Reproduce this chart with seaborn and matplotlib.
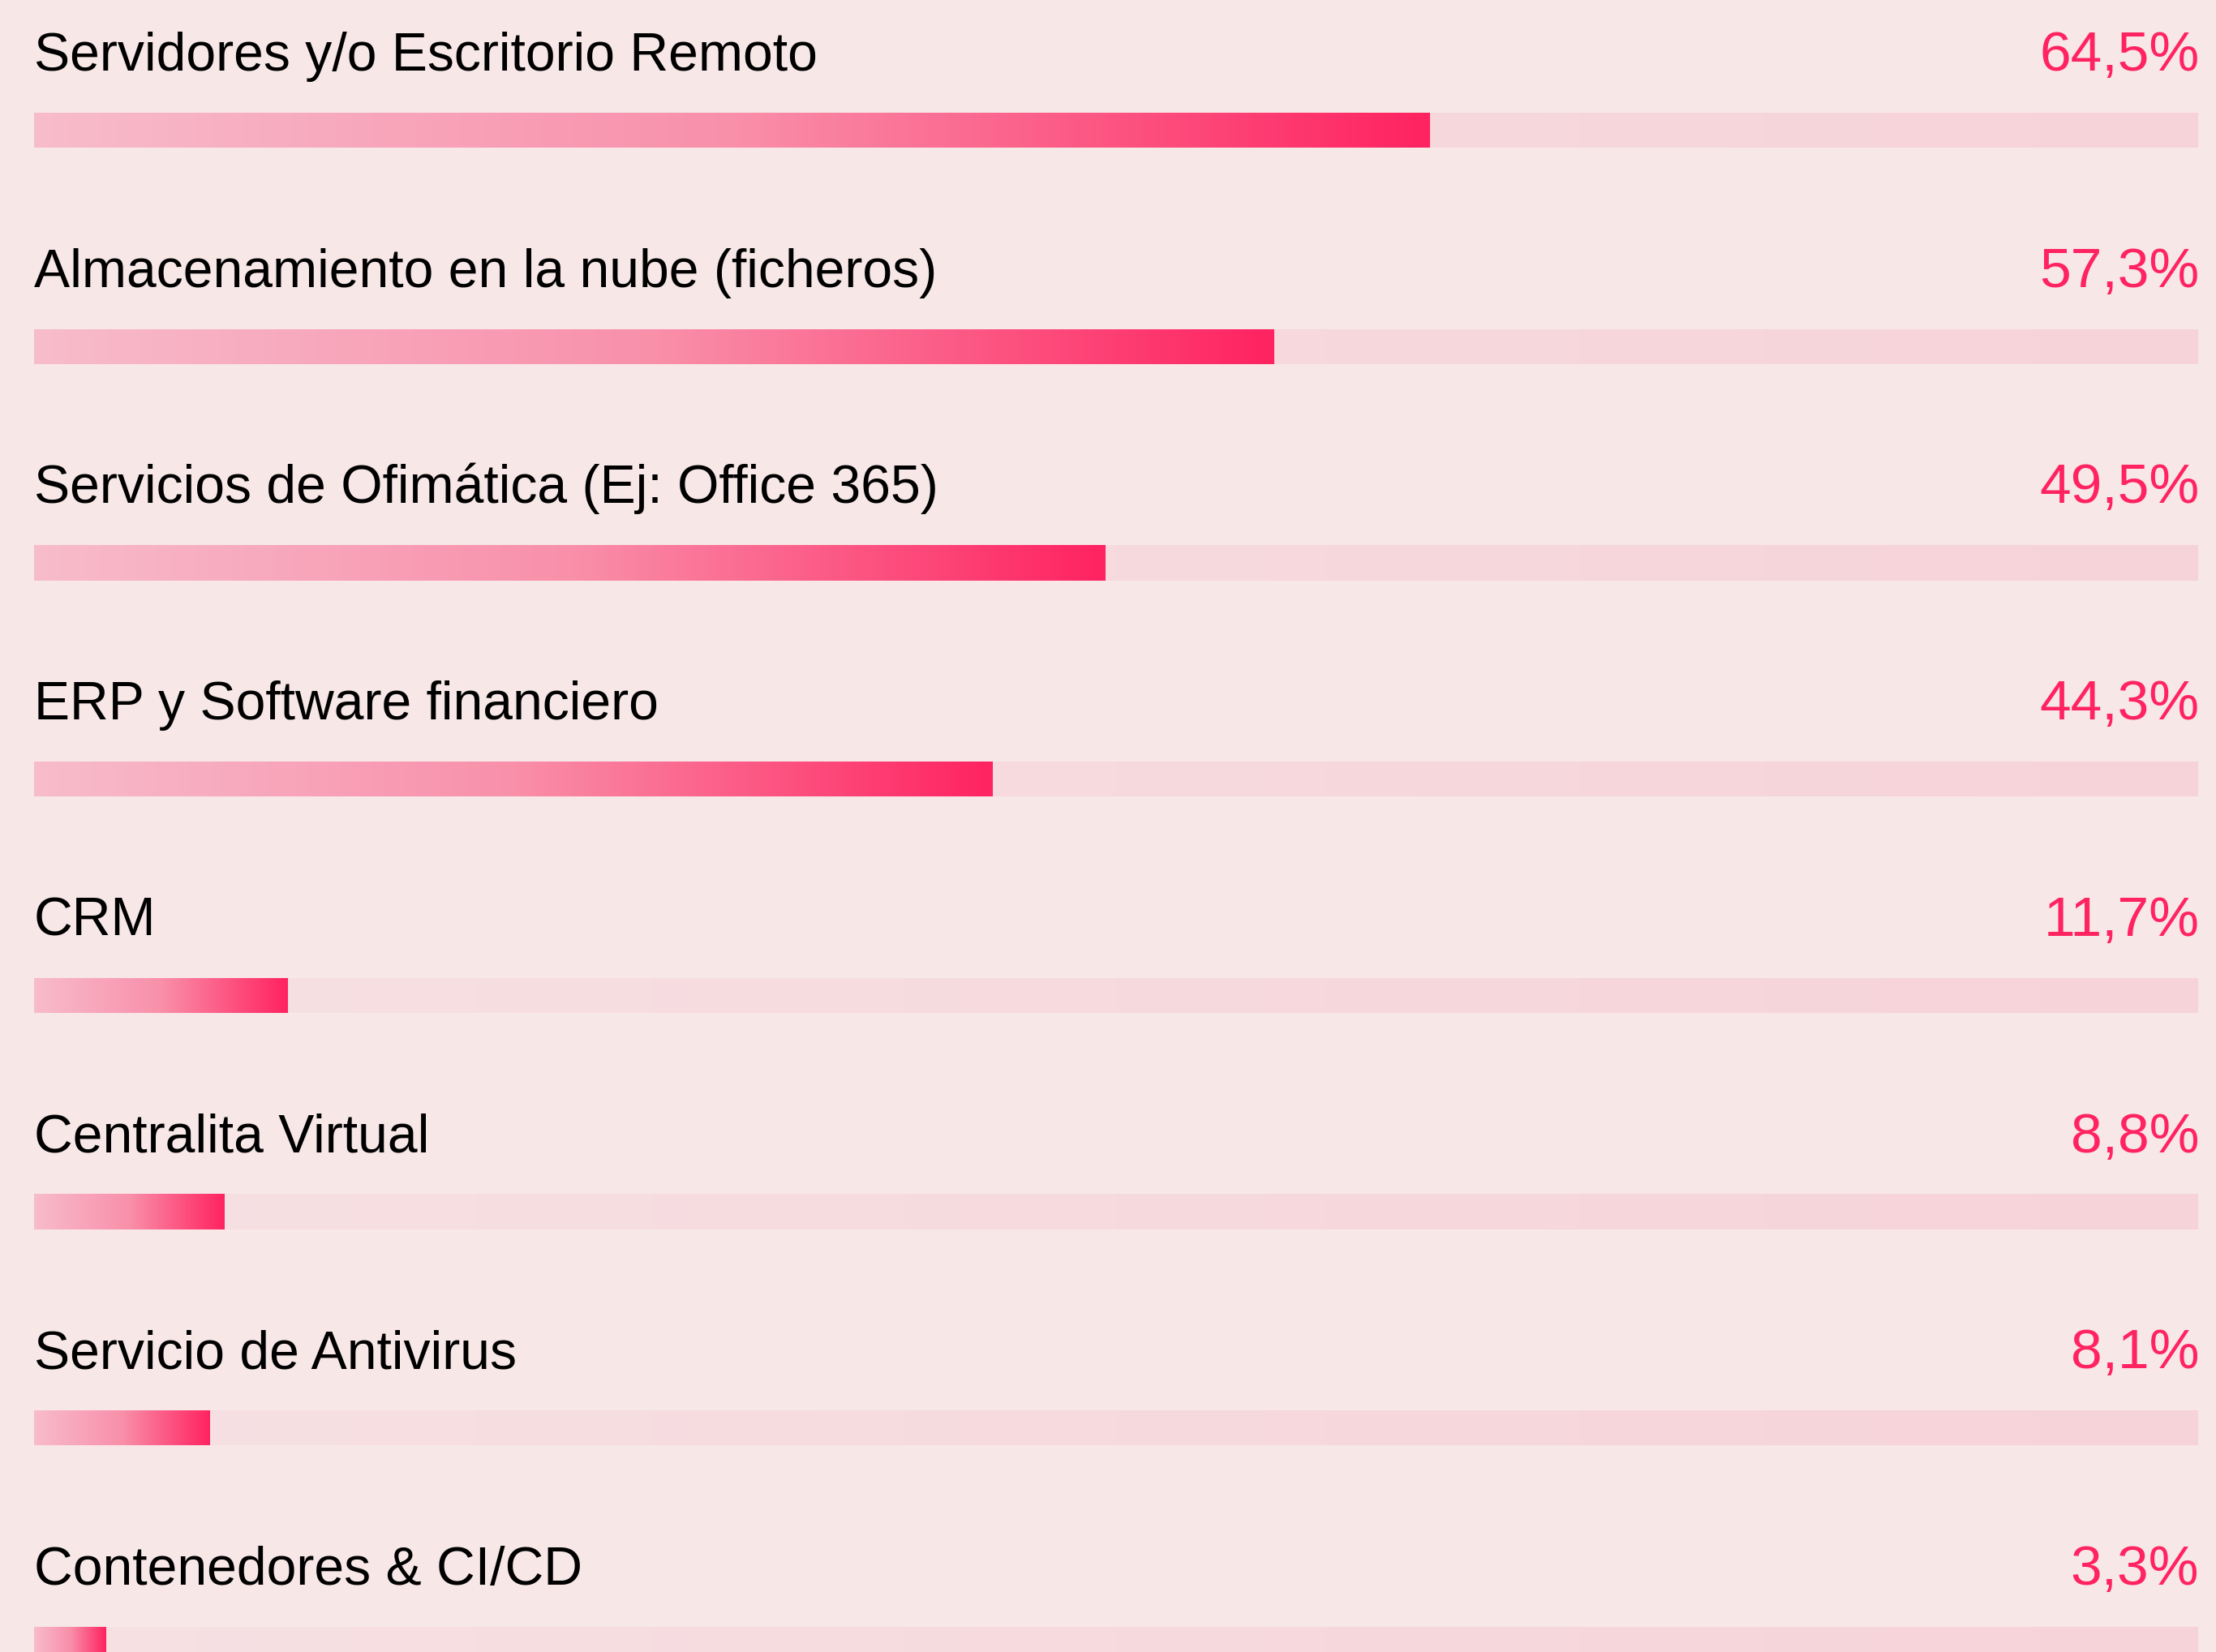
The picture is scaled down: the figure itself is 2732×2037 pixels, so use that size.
import numpy as np
import matplotlib.pyplot as plt
import seaborn as sns
from matplotlib.colors import LinearSegmentedColormap

categorias = [
    'Servidores y/o Escritorio Remoto',
    'Almacenamiento en la nube (ficheros)',
    'Servicios de Ofimática (Ej: Office 365)',
    'ERP y Software financiero',
    'CRM',
    'Centralita Virtual',
    'Servicio de Antivirus',
    'Contenedores & CI/CD',
]
porcentajes = [64.5, 57.3, 49.5, 44.3, 11.7, 8.8, 8.1, 3.3]
total = [100] * len(categorias)

FONDO = '#F7E7E7'
ROJO = '#FF2361'
grad_barra = LinearSegmentedColormap.from_list('barra', ['#F7BCCB', '#F990AA', '#FF2361'])
grad_pista = LinearSegmentedColormap.from_list('pista', ['#F6E1E3', '#F6D3D9'])

sns.set_style('white')
plt.rcParams['font.family'] = ['Liberation Sans', 'DejaVu Sans']

fig = plt.figure(figsize=(13.66, 10.185), dpi=200, facecolor=FONDO)
ax = fig.add_axes([42 / 2732, 0, 2668 / 2732, 1])
ax.set_facecolor(FONDO)

alto = 0.162
sns.barplot(x=total, y=categorias, orient='h', color='#F6D8DC', width=alto, ax=ax)
n_pista = len(ax.patches)
sns.barplot(x=porcentajes, y=categorias, orient='h', color=ROJO, width=alto, ax=ax)

# rellenar cada barra con degradado horizontal
gradiente = np.linspace(0, 1, 256).reshape(1, -1)
for i, p in enumerate(ax.patches):
    x0, y0, w, h = p.get_x(), p.get_y(), p.get_width(), p.get_height()
    cmap = grad_pista if i < n_pista else grad_barra
    im = ax.imshow(gradiente, cmap=cmap, aspect='auto', interpolation='bilinear',
                   extent=[x0, x0 + w, y0 + h, y0], zorder=2 + (i >= n_pista))
    im.set_clip_path(p)
    p.set_facecolor('none')
    p.set_edgecolor('none')

ax.set_xlim(0, 100)
ax.set_ylim(7.036, -0.602)

for i, (cat, val) in enumerate(zip(categorias, porcentajes)):
    yb = i - 0.2756
    ax.text(0, yb, cat, ha='left', va='baseline', fontsize=23.8, color='#000000')
    etiqueta = f'{val:.1f}%'.replace('.', ',')
    ax.text(100.05, yb, etiqueta, ha='right', va='baseline', fontsize=25, color=ROJO)

ax.set_xticks([])
ax.set_yticks([])
ax.set_xlabel('')
ax.set_ylabel('')
sns.despine(ax=ax, left=True, bottom=True)
for t in ax.texts:
    t.set_clip_on(False)

fig.savefig('out.png', dpi=200, facecolor=FONDO)
